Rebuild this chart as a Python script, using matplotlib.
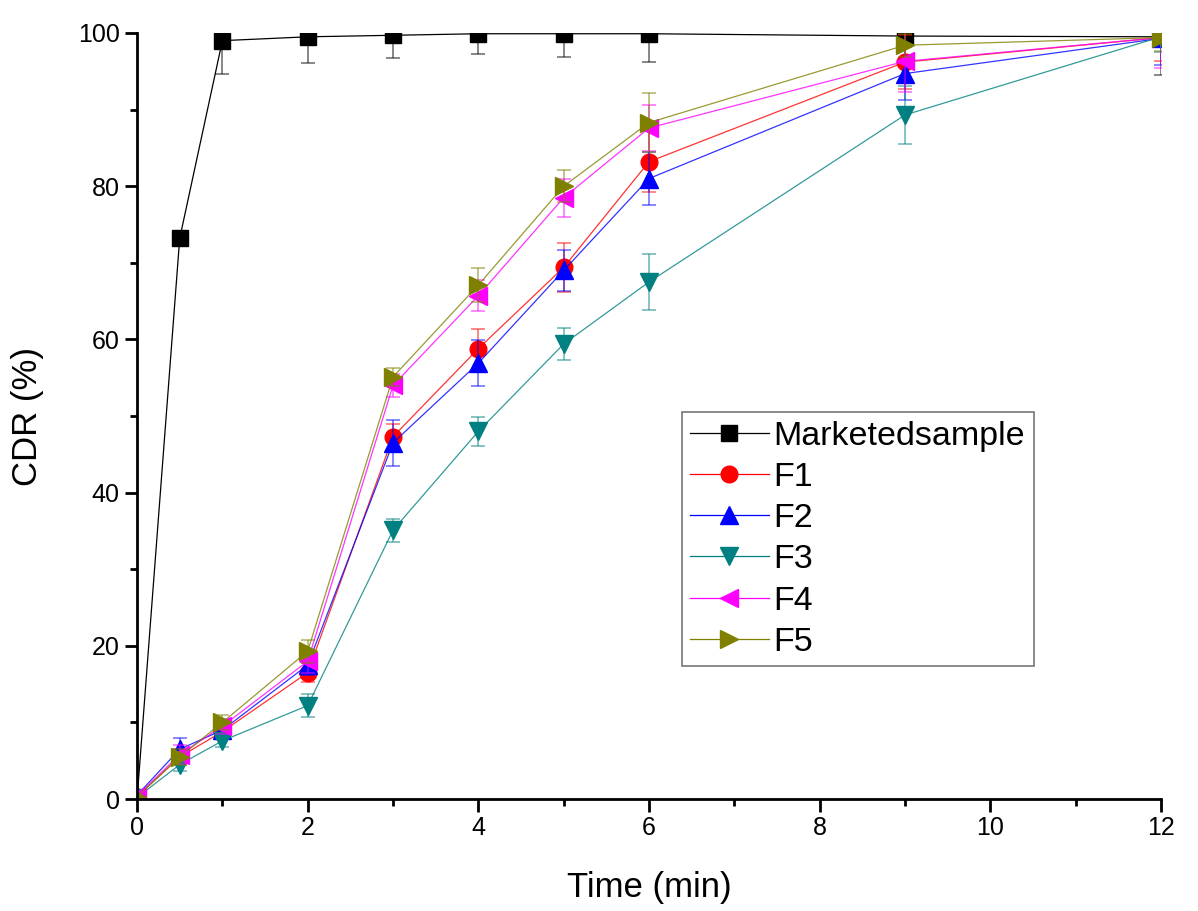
import matplotlib.pyplot as plt
import numpy as np
from matplotlib.ticker import MultipleLocator

plt.rcParams['font.family'] = ['Liberation Sans', 'DejaVu Sans']

time = [0, 0.5, 1, 2, 3, 4, 5, 6, 9, 12]

marketed = [0, 73.2, 99.0, 99.5, 99.7, 99.9, 99.9, 99.9, 99.6, 99.5]
marketed_err = [0, 0.5, 4.3, 3.4, 3.0, 2.7, 3.0, 3.7, 1.0, 5.0]

f1 = [0.3, 5.5, 8.8, 16.5, 47.3, 58.8, 69.4, 83.2, 96.2, 99.4]
f1_err = [0, 1.0, 1.0, 1.2, 1.7, 2.6, 3.2, 4.0, 3.5, 3.0]

f2 = [0.5, 6.5, 9.0, 17.5, 46.5, 56.9, 69.0, 81.0, 94.7, 99.3]
f2_err = [0, 1.5, 1.0, 1.3, 3.0, 3.0, 2.7, 3.5, 3.5, 3.5]

f3 = [0.2, 4.5, 7.6, 12.2, 35.1, 48.0, 59.4, 67.5, 89.3, 99.5]
f3_err = [0, 0.8, 0.8, 1.5, 1.5, 1.9, 2.1, 3.6, 3.8, 2.0]

f4 = [0.4, 5.8, 9.5, 18.0, 54.0, 65.7, 78.5, 87.6, 96.3, 99.4]
f4_err = [0, 1.2, 1.0, 1.5, 1.5, 2.0, 2.5, 3.0, 4.0, 4.0]

f5 = [0.3, 5.5, 10.0, 19.3, 55.1, 67.1, 80.0, 88.3, 98.4, 99.4]
f5_err = [0, 1.0, 1.0, 1.5, 1.2, 2.2, 2.1, 3.8, 1.5, 1.8]

labels = ['Marketedsample', 'F1', 'F2', 'F3', 'F4', 'F5']
series = [marketed, f1, f2, f3, f4, f5]
errors = [marketed_err, f1_err, f2_err, f3_err, f4_err, f5_err]
colors = ['black', 'red', 'blue', '#008080', 'magenta', '#808000']
markers = ['s', 'o', '^', 'v', '<', '>']
sizes = [11, 12, 13, 13, 13, 13]

fig = plt.figure(figsize=(11.98, 9.11), dpi=100)
ax = fig.add_axes([0.1144, 0.1229, 0.8547, 0.8409])

for y, e, c, m, s, lab in zip(series, errors, colors, markers, sizes, labels):
    ax.errorbar(time, y, yerr=e, fmt='none', ecolor=c, alpha=0.55,
                elinewidth=1.2, capsize=5, capthick=1.2)
    ax.plot(time, y, color=c, lw=0.9, alpha=0.8 if c != 'black' else 1)
    ax.plot(time, y, linestyle='none', marker=m, ms=s, color=c)
    ax.plot([], [], color=c, lw=0.9, marker=m, ms=s, label=lab)

ax.set_xlim(0, 12)
ax.set_ylim(0, 100)
ax.xaxis.set_major_locator(MultipleLocator(2))
ax.xaxis.set_minor_locator(MultipleLocator(1))
ax.yaxis.set_major_locator(MultipleLocator(20))
ax.yaxis.set_minor_locator(MultipleLocator(10))
ax.tick_params(which='major', direction='out', length=9, width=2, labelsize=18)
ax.tick_params(which='minor', direction='out', length=5, width=2)

for side in ['top', 'right']:
    ax.spines[side].set_visible(False)
for side in ['left', 'bottom']:
    ax.spines[side].set_linewidth(2)

ax.set_xlabel('Time (min)', fontsize=25, labelpad=22)
ax.set_ylabel('CDR (%)', fontsize=25, labelpad=24)

leg = ax.legend(loc='upper left', bbox_to_anchor=(0.532, 0.505), borderaxespad=0,
                fontsize=24.5, frameon=True, fancybox=False, handlelength=2.3,
                labelspacing=0.3, handletextpad=0.15, borderpad=0.25)
leg.get_frame().set_edgecolor('#555555')
leg.get_frame().set_linewidth(1.2)

fig.savefig('out.png', dpi=100)
